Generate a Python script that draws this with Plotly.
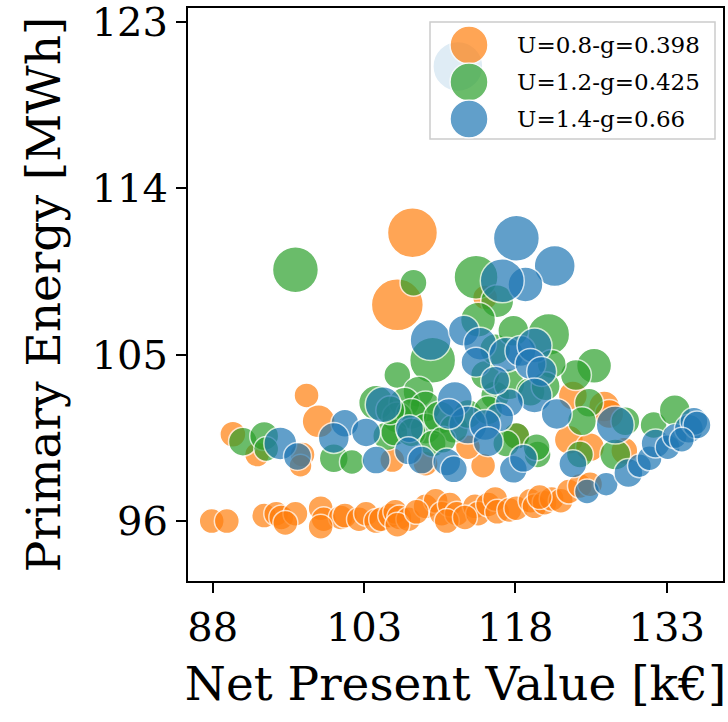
import plotly.graph_objects as go

# ---------------- data ----------------
series_names = ["U=0.8-g=0.398", "U=1.2-g=0.425", "U=1.4-g=0.66"]
series_colors = ["#ff7f0e", "#2ca02c", "#1f77b4"]

orange_x = [87.9, 89.4, 93.1, 94.3, 94.8, 96.2, 98.7, 99.0, 100.7, 101.1, 102.5, 103.2, 104.2, 104.7,
            105.6, 106.1, 106.5, 107.4, 109.1, 110.1, 110.7, 111.5, 112.2, 114.0, 114.3, 115.3, 116.0,
            116.2, 117.4, 118.1, 119.5, 119.9, 120.9, 121.6, 122.5, 123.3, 124.4, 125.4,
            98.7, 95.2, 106.3, 111.2, 108.2, 113.0, 120.4,
            90.0, 92.4, 97.3, 98.5, 96.9, 96.7, 106.3, 107.8, 114.8, 113.3, 118.1, 123.7, 123.3,
            125.4, 126.8, 127.3, 115.0, 109.1, 105.8, 128.8]
orange_y = [96.0, 96.0, 96.3, 96.4, 96.2, 96.4, 96.7, 96.1, 96.2, 96.3, 96.1, 96.4, 96.0, 96.1,
            96.3, 96.5, 96.2, 96.1, 96.8, 97.1, 96.4, 96.9, 96.4, 96.8, 96.4, 96.9, 97.2,
            96.5, 96.6, 96.7, 97.1, 96.8, 97.0, 97.2, 97.1, 97.6, 97.9, 98.0,
            95.7, 95.9, 95.8, 96.0, 96.5, 96.2, 97.3,
            100.7, 99.6, 102.8, 101.4, 99.6, 99.0, 107.7, 111.6, 99.0, 100.0, 100.6, 102.8, 100.4,
            100.0, 102.2, 101.8, 108.1, 99.1, 99.3, 99.8]
orange_s = [25, 25, 25, 25, 25, 25, 25, 25, 25, 25, 25, 25, 25, 25,
            25, 25, 25, 25, 25, 25, 25, 25, 25, 25, 25, 25, 25,
            25, 25, 25, 25, 25, 25, 25, 25, 25, 25, 25,
            25, 25, 25, 25, 25, 25, 25,
            26, 25, 25, 33, 25, 23, 52, 50, 25, 25, 27, 29, 29,
            29, 31, 29, 25, 25, 25, 27]

green_x = [96.2, 107.9, 114.1, 116.2, 114.3, 121.3, 109.8, 106.3, 104.2, 108.4, 107.0, 109.1,
           106.3, 107.7, 105.3, 106.0, 109.1, 110.5, 100.0, 101.8, 91.0, 93.1, 93.3, 125.8,
           124.0, 125.3, 124.6, 120.2, 127.9, 128.9, 131.7, 133.8, 118.1, 116.0, 115.0, 117.4,
           119.5, 121.6, 111.9, 113.3, 115.3, 124.4, 117.1, 116.0, 117.8,
           105.6, 107.7, 109.8, 110.8, 120.1, 121.0]
green_y = [109.6, 108.9, 109.2, 107.9, 106.9, 106.1, 104.7, 103.9, 102.4, 103.0, 102.4, 102.2,
           101.6, 101.8, 100.6, 100.8, 101.0, 101.6, 99.4, 99.2, 100.3, 100.6, 99.9, 104.4,
           103.9, 102.4, 101.4, 99.6, 99.6, 101.4, 101.2, 102.0, 100.6, 102.8, 103.9, 103.4,
           103.0, 104.5, 101.0, 101.8, 102.0, 99.6, 100.2, 105.3, 106.3,
           102.0, 100.8, 100.2, 100.4, 100.0, 103.3]
green_s = [46, 27, 44, 33, 35, 42, 46, 27, 35, 31, 31, 31,
           31, 31, 29, 27, 31, 33, 29, 25, 29, 29, 25, 35,
           31, 29, 29, 27, 31, 29, 27, 31, 27, 29, 29, 31,
           29, 29, 29, 29, 29, 27, 27, 31, 31,
           29, 29, 27, 27, 27, 29]

blue_x = [112.3, 118.1, 121.9, 119.0, 116.7, 109.6, 112.9, 114.5, 114.1, 117.1, 118.5, 119.9,
          119.5, 120.6, 119.9, 117.4, 122.1, 116.4, 104.9, 112.0, 113.3, 115.0, 115.3, 117.8,
          118.8, 107.5, 107.4, 108.7, 111.2, 111.9, 104.2, 101.1, 100.0, 103.2, 94.7, 96.4,
          127.9, 123.7, 125.1, 127.0, 129.2, 130.3, 131.3, 131.9, 133.1, 133.8, 135.2, 135.7,
          136.0, 134.5, 111.4, 116.0]
blue_y = [120.6, 111.3, 109.8, 108.8, 109.0, 105.8, 106.3, 105.6, 104.6, 105.0, 105.2, 105.5,
          104.5, 104.1, 102.8, 102.4, 101.8, 101.6, 102.3, 102.6, 101.2, 101.2, 100.3, 98.8,
          99.4, 101.0, 99.8, 99.3, 99.2, 98.8, 99.3, 101.3, 100.5, 100.8, 100.2, 99.5,
          101.2, 99.1, 97.6, 98.0, 98.6, 99.0, 99.4, 100.2, 100.0, 100.6, 101.0, 101.4,
          101.2, 100.4, 101.8, 103.6]
blue_s = [50, 46, 41, 35, 44, 41, 31, 33, 30, 35, 31, 35,
          31, 30, 35, 28, 31, 29, 36, 35, 38, 31, 30, 28,
          28, 28, 28, 28, 28, 27, 28, 28, 31, 29, 33, 28,
          38, 28, 25, 24, 29, 24, 25, 29, 25, 25, 29, 28,
          28, 25, 31, 29]

x_ticks = [88, 103, 118, 133]
y_ticks = [96, 105, 114, 123]
x_title = "Net Present Value [k€]"
y_title = "Primary Energy [MWh]"

FONT = "DejaVu Serif"
W, H = 728, 722
ML, MR, MT, MB = 188, 5, 8, 141

fig = go.Figure()
for name, col, xs, ys, ss in zip(series_names, series_colors,
                                  [orange_x, green_x, blue_x],
                                  [orange_y, green_y, blue_y],
                                  [orange_s, green_s, blue_s]):
    fig.add_trace(go.Scatter(
        x=xs, y=ys, mode="markers", name=name, showlegend=False,
        marker=dict(size=ss, color=col, opacity=0.7,
                    line=dict(color="white", width=1.5)),
    ))

pw, ph = W - ML - MR, H - MT - MB


def px2paper(px, py):
    return (px - ML) / pw, (H - MB - py) / ph


# custom legend (large markers like the original)
lx0, ly0 = px2paper(430, 22)
lx1, ly1 = px2paper(715, 139)
fig.add_shape(type="rect", xref="paper", yref="paper", x0=lx0, x1=lx1, y0=ly1, y1=ly0,
              fillcolor="rgba(255,255,255,0.8)", line=dict(color="#cccccc", width=1.5),
              layer="above")
r = 19
for i, (name, col) in enumerate(zip(series_names, series_colors)):
    cy = 45 + i * 37
    cx0, cy0 = px2paper(469 - r, cy - r)
    cx1, cy1 = px2paper(469 + r, cy + r)
    fig.add_shape(type="circle", xref="paper", yref="paper", x0=cx0, x1=cx1, y0=cy1, y1=cy0,
                  fillcolor=col, opacity=0.7, line=dict(color="white", width=1.5), layer="above")
    tx, ty = px2paper(515, cy)
    fig.add_annotation(xref="paper", yref="paper", x=tx, y=ty, text=name, showarrow=False,
                       xanchor="left", yanchor="middle",
                       font=dict(family=FONT, size=23, color="black"))

axis_common = dict(showgrid=False, zeroline=False, showline=True, linecolor="black", linewidth=2,
                   mirror=True, ticks="outside", ticklen=10, tickwidth=2, tickcolor="black",
                   ticklabeloverflow="allow",
                   tickfont=dict(family=FONT, size=40, color="black"))
fig.update_xaxes(range=[85.55, 138.58], tickvals=x_ticks, ticktext=[str(v) for v in x_ticks],
                 title=dict(text=x_title, font=dict(family=FONT, size=47, color="black"), standoff=18),
                 **axis_common)
fig.update_yaxes(range=[92.76, 123.76], tickvals=y_ticks, ticktext=[str(v) for v in y_ticks],
                 title=dict(text=y_title, font=dict(family=FONT, size=47, color="black"), standoff=16),
                 **axis_common)
fig.update_layout(width=W, height=H, margin=dict(l=ML, r=MR, t=MT, b=MB, autoexpand=False),
                  plot_bgcolor="white", paper_bgcolor="white", showlegend=False,
                  font=dict(family=FONT))
fig.write_html("out.html")
